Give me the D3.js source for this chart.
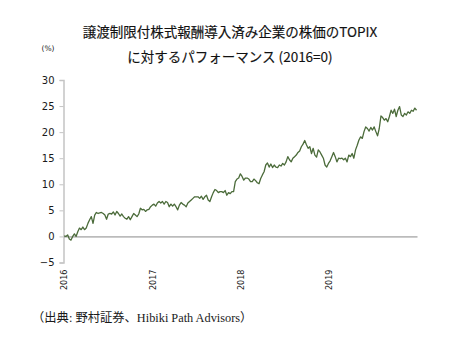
<!DOCTYPE html>
<html>
<head>
<meta charset="utf-8">
<script src="https://cdn.jsdelivr.net/npm/d3@7/dist/d3.min.js"></script>
<style>
  html, body { margin: 0; padding: 0; background: #fff; }
  svg { display: block; }
</style>
</head>
<body>
<svg id="chart" width="458" height="338"></svg>
<script>
// ---- data ----
const titleLines = ["譲渡制限付株式報酬導入済み企業の株価のTOPIX", "に対するパフォーマンス (2016=0)"];
const unitLabel = "(%)";
const sourceNote = "（出典:  野村証券、Hibiki Path Advisors）";
const startDate = "2016-01-04";   // first weekly observation
const yTicks = [-5, 0, 5, 10, 15, 20, 25, 30];
const xTickYears = ["2016", "2017", "2018", "2019"];
// weekly relative performance (%) vs TOPIX
const values2016 = [0.1,0,0.3,-0.5,-0.7,0,0.5,0,0.9,1.6, 1.3,1.8,1.3,1.6,2.5,3.2,3.8,2.5,4.1,4.6,
  4.4,4.5,4.6,4.4,4.1,3.3,4.3,4.4,4.3,4.7, 4.1,4.8,4.4,3.9,4.3,3.8,3.5,3.3,3.8,3.2,
  3.8,4.4,4.1,3.8,4.3,5.4,5.1,5.2,4.8,5.1, 5.2,5.7,6.0];
const values2017 = [6.2,5.8,6.4,6.7,6.4,6.7,6.2,6.7,6.5,5.7, 6.2,5.8,6.2,5.7,5.1,6.0,6.5,6.2,6.0,5.7,
  6.4,6.7,7.0,7.3,7.6,7.6,7.6,7.3,7.7,7.1, 7.6,7.9,7.0,6.7,7.6,8.4,9.0,8.8,8.4,8.6,
  8.6,8.4,8.8,7.9,8.4,8.2,8.6,8.6,10.5,11.0, 11.2,12.0,11.5,10.8,11.2,11.2];
const values2018 = [11.0,10.5,10.5,11.0,10.7,10.3,10.1,11.1,11.8,12.4, 13.7,14.1,13.3,13.9,13.2,13.7,13.3,13.2,13.7,13.5,
  14.0,13.7,14.3,15.3,14.7,14.3,15.0,15.3,15.6,16.1, 16.4,17.2,17.7,18.4,17.6,16.9,17.2,15.9,16.9,15.6,
  15.2,16.6,16.2,15.6,15.0,13.7,13.3,14.0,14.5,15.3, 16.1,15.3,14.3];
const values2019 = [15.0,14.9,15.0,14.7,15.0,14.3,15.6,15.3,15.9,15.0, 16.6,17.5,18.5,19.1,18.8,20.1,21.0,20.7,20.2,20.9,
  20.4,21.0,20.1,19.3,20.7,23.1,22.8,22.3,22.6,22.0, 23.0,24.2,23.6,24.4,23.0,24.2,24.9,23.3,23.0,23.6,
  23.3,23.9,23.6,24.2,24.0,24.6,24.2];

const values = [].concat(values2016, values2017, values2018, values2019);
const parse = d3.timeParse("%Y-%m-%d");
const t0 = parse(startDate);
const series = values.map((v, i) => ({ date: d3.timeWeek.offset(t0, i), value: v }));

// ---- layout ----
const svg = d3.select("#chart");
const margin = { left: 63.5, right: 41, top: 80, bottom: 75.5 };
const W = 458, H = 338;

const x = d3.scaleTime()
  .domain([new Date(2016, 0, 1), new Date(2020, 0, 1)])
  .range([margin.left, W - margin.right]);
const y = d3.scaleLinear()
  .domain([-5, 30])
  .range([H - margin.bottom, margin.top]);

// title
svg.append("g").selectAll("text").data(titleLines).join("text")
  .attr("x", 230)
  .attr("y", (d, i) => 37 + i * 25)
  .attr("text-anchor", "middle")
  .attr("font-family", "'Noto Sans CJK JP', sans-serif")
  .attr("font-size", 13.5)
  .attr("fill", "#111")
  .attr("stroke", "#111")
  .attr("stroke-width", 0.15)
  .text(d => d);

svg.append("text")
  .attr("x", 48).attr("y", 51)
  .attr("text-anchor", "middle")
  .attr("font-family", "'DejaVu Sans', sans-serif")
  .attr("font-size", 7.5)
  .attr("fill", "#1a1a1a")
  .text(unitLabel);

// y axis
const yAxis = svg.append("g")
  .attr("transform", `translate(${margin.left},0)`)
  .call(d3.axisLeft(y).tickValues(yTicks).tickSize(4).tickPadding(5).tickFormat(d3.format("d")));
yAxis.select(".domain").attr("stroke", "#c4c4c4").attr("stroke-width", 1.5);
yAxis.selectAll(".tick line").attr("stroke", "#c4c4c4").attr("stroke-width", 1);
yAxis.selectAll(".tick text")
  .attr("font-family", "'DejaVu Sans', sans-serif")
  .attr("font-size", 10)
  .attr("fill", "#1a1a1a");

// zero line / x axis
const xAxis = svg.append("g")
  .attr("transform", `translate(0,${y(0)})`)
  .call(d3.axisBottom(x)
    .tickValues(xTickYears.map(s => parse(s + "-01-01")))
    .tickSize(0)
    .tickFormat(d3.timeFormat("%Y")));
xAxis.select(".domain").attr("stroke", "#8a8a8a").attr("stroke-width", 1);
xAxis.selectAll(".tick text")
  .attr("font-family", "'DejaVu Sans Condensed', 'DejaVu Sans', sans-serif")
  .attr("font-size", 9)
  .attr("fill", "#1a1a1a")
  .attr("text-anchor", "end")
  .attr("transform", `translate(0,${y(-5) - y(0) + 7}) rotate(-90)`)
  .attr("x", 0).attr("y", 0).attr("dy", "0.35em");

// line
svg.append("path")
  .datum(series)
  .attr("fill", "none")
  .attr("stroke", "#4b6b3a")
  .attr("stroke-width", 1.3)
  .attr("stroke-linejoin", "round")
  .attr("d", d3.line().x(d => x(d.date)).y(d => y(d.value)));

// source
svg.append("text")
  .attr("x", 32).attr("y", 322)
  .attr("font-family", "'Liberation Serif', 'Noto Sans CJK JP', serif")
  .attr("font-size", 12.3)
  .attr("fill", "#1a1a1a")
  .text(sourceNote);
</script>
</body>
</html>
